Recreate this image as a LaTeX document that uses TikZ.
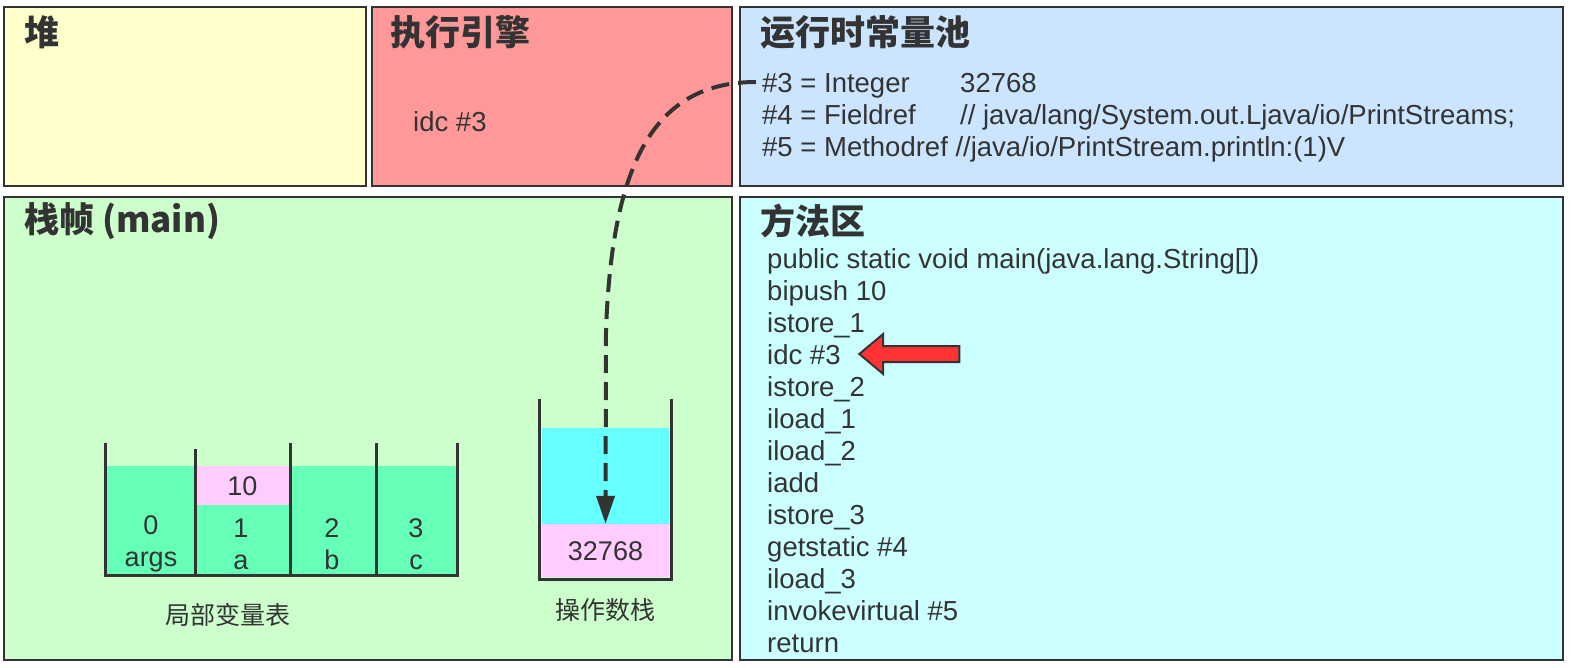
\documentclass[tikz,border=0pt]{standalone}
\usepackage{fontspec}
\setmainfont{Liberation Sans}
\newfontfamily\cjk{Noto Sans CJK SC}
\usetikzlibrary{shapes.arrows, arrows.meta}

\definecolor{ink}{HTML}{333333}
\definecolor{heapbg}{HTML}{FFFFCC}
\definecolor{enginebg}{HTML}{FF9999}
\definecolor{poolbg}{HTML}{CCE5FF}
\definecolor{framebg}{HTML}{CCFFCC}
\definecolor{methodbg}{HTML}{CCFFFF}
\definecolor{slotgreen}{HTML}{66FFB8}
\definecolor{slotpink}{HTML}{FFCCFF}
\definecolor{slotcyan}{HTML}{66FFFF}
\definecolor{ptrred}{HTML}{FF3333}

\tikzset{
  area/.style={rectangle, draw=ink, line width=2.5pt, inner sep=0pt},
  title/.style={anchor=west, inner sep=0pt, text=ink, font=\cjk\bfseries\fontsize{35}{40}\selectfont},
  code/.style={anchor=west, inner sep=0pt, text=ink, text height=25pt, text depth=4pt, font=\fontsize{27.5}{30}\selectfont},
  cell/.style={inner sep=0pt, text=ink, align=center, font=\fontsize{27}{32}\selectfont},
  num/.style={cell, fill=slotpink, text height=21pt, text depth=2pt},
  cnname/.style={inner sep=0pt, text=ink, font=\cjk\fontsize{25}{30}\selectfont},
  wall/.style={draw=ink, line width=3pt},
  flow/.style={draw=ink, line width=4pt, dash pattern=on 18pt off 9pt, -{Triangle[length=28pt, width=18pt]}}
}

\begin{document}
\begin{tikzpicture}[x=1pt, y=-1pt]
\useasboundingbox (0,0) rectangle (1574,668);

% 五个区域
\node[area, fill=heapbg, minimum width=362, minimum height=179] (heap) at (185,96.5) {};
\node[area, fill=enginebg, minimum width=360, minimum height=179] (engine) at (552,96.5) {};
\node[area, fill=poolbg, minimum width=823, minimum height=179] (pool) at (1151.5,96.5) {};
\node[area, fill=framebg, minimum width=728, minimum height=463] (frame) at (368,428.5) {};
\node[area, fill=methodbg, minimum width=823, minimum height=463] (method) at (1151.5,428.5) {};

% 标题
\node[title] (heapT) at (24,32) {堆};
\node[title] (engineT) at (390,32) {执行引擎};
\node[title] (poolT) at (760,32) {运行时常量池};
\node[title] (frameT) at (24,221) {栈帧 (main)};
\node[title] (methodT) at (760,221) {方法区};

% 执行引擎
\node[code] (eng) at (413,121) {idc \#3};

% 运行时常量池
\node[code] (c3) at (762,82) {\#3 = Integer};
\node[code] (v3) at (960,82) {32768};
\node[code] (c4) at (762,114) {\#4 = Fieldref};
\node[code] (v4) at (960,114) {// java/lang/System.out.Ljava/io/PrintStreams;};
\node[code] (c5) at (762,146) {\#5 = Methodref //java/io/PrintStream.println:(1)V};

% 方法区
\node[code] (m1) at (767,258) {public static void main(java.lang.String[])};
\node[code] (m2) at (767,290) {bipush 10};
\node[code] (m3) at (767,322) {istore\_1};
\node[code] (m4) at (767,354) {idc \#3};
\node[code] (m5) at (767,386) {istore\_2};
\node[code] (m6) at (767,418) {iload\_1};
\node[code] (m7) at (767,450) {iload\_2};
\node[code] (m8) at (767,482) {iadd};
\node[code] (m9) at (767,514) {istore\_3};
\node[code] (m10) at (767,546) {getstatic \#4};
\node[code] (m11) at (767,578) {iload\_3};
\node[code] (m12) at (767,610) {invokevirtual \#5};
\node[code] (m13) at (767,642) {return};

% 当前指令
\node[single arrow, shape border rotate=180, draw=ink, line width=2pt, fill=ptrred,
      minimum height=100, inner sep=7pt, single arrow head extend=12pt,
      single arrow tip angle=80, anchor=tip] (ptr) at ([xshift=17]m4.east) {};

% 局部变量表
\fill[slotgreen] (107,466) rectangle (457,577);
\node[num, minimum width=95, minimum height=39] (val1) at (242.5,485.5) {10};
\node[cell] (lv0) at (151,544) {0\\args};
\node[cell] (lv1) at (241,544) {1\\a};
\node[cell] (lv2) at (332,544) {2\\b};
\node[cell] (lv3) at (416,544) {3\\c};
\draw[wall] (105,443) -- (105,575);
\draw[wall] (195,449) -- (195,575);
\draw[wall] (290,443) -- (290,575);
\draw[wall] (376,443) -- (376,575);
\draw[wall] (457,443) -- (457,575);
\draw[wall] (103.5,575) -- (458.5,575);
\node[cnname] (lvT) at (228,615) {局部变量表};

% 操作数栈
\fill[slotcyan] (542,428) rectangle (669,524);
\node[num, minimum width=127, minimum height=53] (sval) at (605.5,550.5) {32768};
\draw[wall] (539,399) -- (539,579) -- (671,579) -- (671,399);
\node[cnname] (stT) at (605,610) {操作数栈};

% 常量入栈
\draw[flow] ([xshift=-6]c3.west) .. controls (650,82) and (612,170) .. (606,330) -- (sval.north);

\end{tikzpicture}
\end{document}
